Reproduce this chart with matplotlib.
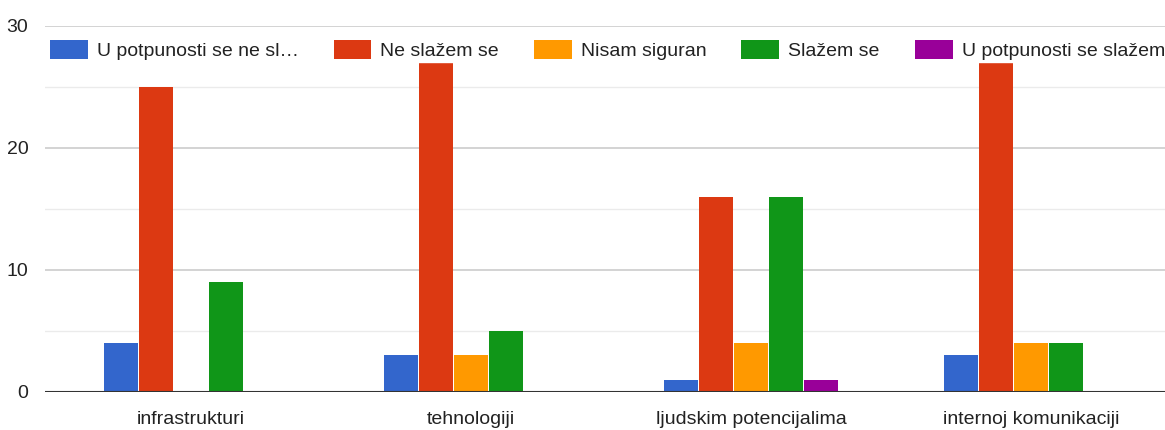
import matplotlib.pyplot as plt
import numpy as np

plt.rcParams['font.family'] = ['Liberation Sans', 'DejaVu Sans']

# podaci
kategorije = ["infrastrukturi", "tehnologiji", "ljudskim potencijalima", "internoj komunikaciji"]
serije = ["U potpunosti se ne sl…", "Ne slažem se", "Nisam siguran", "Slažem se", "U potpunosti se slažem"]
boje = ["#3366cc", "#dc3912", "#ff9900", "#109618", "#990099"]

ne_slazem_potpuno = [4, 3, 1, 3]
ne_slazem = [25, 27, 16, 27]
nisam_siguran = [0, 3, 4, 4]
slazem = [9, 5, 16, 4]
slazem_potpuno = [0, 0, 1, 0]
vrijednosti = [ne_slazem_potpuno, ne_slazem, nisam_siguran, slazem, slazem_potpuno]

fig = plt.figure(figsize=(11.65, 4.3), dpi=100)
ax = fig.add_axes([45 / 1165, 38 / 430, 1120 / 1165, 366 / 430])

x = np.arange(len(kategorije))
sirina = 0.125
for i, (naziv, vals, c) in enumerate(zip(serije, vrijednosti, boje)):
    ax.bar(x + (i - 2) * sirina, vals, width=0.119, color=c, label=naziv, zorder=3)

ax.set_xlim(-0.521, 3.479)
ax.set_ylim(0, 30)

# mreža
for y in [5, 15, 25]:
    ax.axhline(y, color="#ebebeb", lw=1, zorder=1)
for y in [10, 20, 30]:
    ax.axhline(y, color="#cccccc", lw=1.2, zorder=1)
ax.axhline(0, color="#333333", lw=1.5, zorder=4)

ax.set_yticks([0, 10, 20, 30])
ax.set_xticks(x)
ax.set_xticklabels(kategorije)
ax.tick_params(axis="both", length=0, labelsize=14, colors="#222222")
ax.tick_params(axis="x", pad=14)
ax.tick_params(axis="y", pad=12)
for s in ax.spines.values():
    s.set_visible(False)

leg = ax.legend(loc="center", bbox_to_anchor=(0.502, 0.934), ncol=5, frameon=True,
                fontsize=14, handlelength=1.95, handleheight=1.13, columnspacing=1.8,
                handletextpad=0.46, borderpad=0.1, borderaxespad=0, fancybox=False)
leg.get_frame().set_facecolor("white")
leg.get_frame().set_edgecolor("white")
leg.get_frame().set_alpha(1)
leg.set_zorder(5)
for t in leg.get_texts():
    t.set_color("#222222")

fig.savefig("out.png", dpi=100)
